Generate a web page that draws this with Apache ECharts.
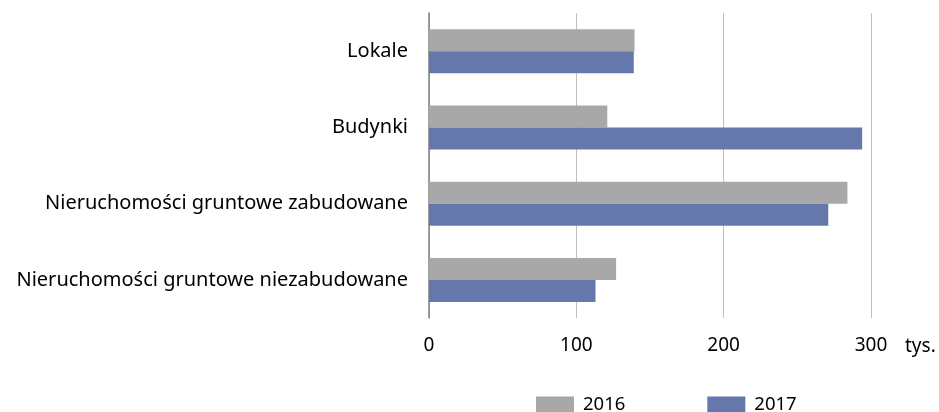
<!DOCTYPE html>
<html><head><meta charset="utf-8">
<script src="https://cdn.jsdelivr.net/npm/echarts@6/dist/echarts.min.js"></script>
<style>html,body{margin:0;padding:0;background:#fff}#c{width:939px;height:412px}</style>
</head><body><div id="c"></div>
<script>
const categories = ['Lokale', 'Budynki', 'Nieruchomości gruntowe zabudowane', 'Nieruchomości gruntowe niezabudowane'];
const seriesNames = ['2016', '2017'];
const values2016 = [139.5, 121, 284, 127];
const values2017 = [139, 294, 271, 113];
const xTicks = [0, 100, 200, 300];
const unitLabel = 'tys.';

const FONT = 'Noto Sans';
const chart = echarts.init(document.getElementById('c'), null, {renderer: 'canvas'});
chart.setOption({
  animation: false,
  textStyle: {fontFamily: FONT},
  grid: {left: 429, right: 68, top: 13, height: 305, containLabel: false},
  legend: {
    left: 531, top: 390, itemWidth: 38, itemHeight: 16, itemGap: 82,
    icon: 'rect',
    textStyle: {fontFamily: FONT, fontSize: 18.5, color: '#000', padding: [5, 0, 0, 4]},
    data: seriesNames
  },
  xAxis: {
    type: 'value', min: xTicks[0], max: xTicks[xTicks.length - 1], interval: 100,
    name: unitLabel, nameLocation: 'end', nameGap: 34,
    nameTextStyle: {fontFamily: FONT, fontSize: 19, color: '#000', align: 'left', verticalAlign: 'top', padding: [19, 0, 0, 0]},
    axisLine: {show: false}, axisTick: {show: false},
    axisLabel: {fontFamily: FONT, fontSize: 19, color: '#000', margin: 18},
    splitLine: {show: true, lineStyle: {color: '#bfbfbf', width: 1}}
  },
  yAxis: {
    type: 'category', data: categories, inverse: true,
    axisLine: {show: true, lineStyle: {color: '#7f7f7f', width: 1.5}},
    axisTick: {show: false},
    axisLabel: {fontFamily: FONT, fontSize: 20, color: '#000', margin: 21}
  },
  series: [
    {name: seriesNames[0], type: 'bar', data: values2016, barWidth: 22, barGap: '0%',
     itemStyle: {color: '#a8a8a8'}},
    {name: seriesNames[1], type: 'bar', data: values2017, barWidth: 22, barGap: '0%',
     itemStyle: {color: '#6677ab'}}
  ]
});
</script></body></html>
